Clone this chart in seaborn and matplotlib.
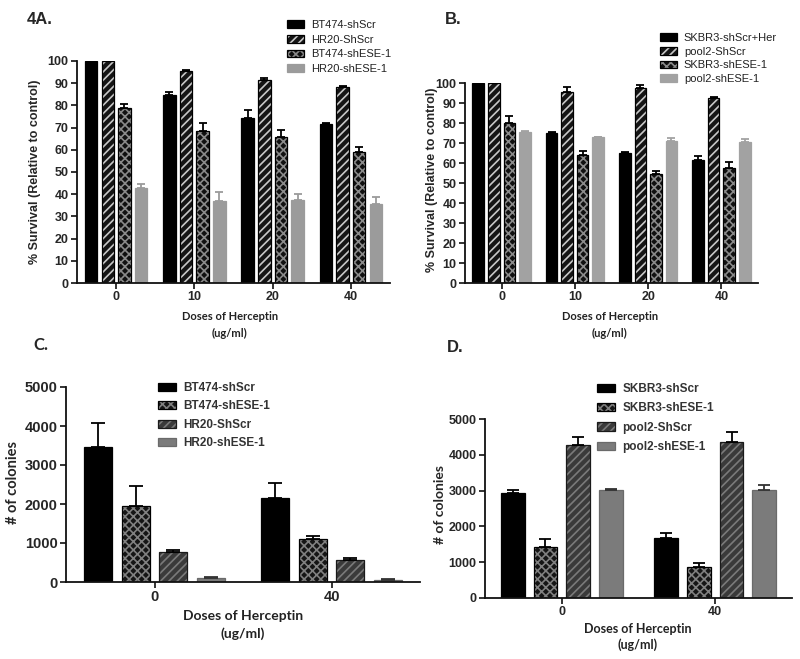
#!/usr/bin/env python3
"""
Herceptin dose response and colony counts, four panel figure (4A-D)
"""

import numpy as np
import pandas as pd
import matplotlib
matplotlib.use('Agg')
import matplotlib.pyplot as plt
import seaborn as sns
from matplotlib.colors import to_rgba

W, H = 800, 659

# ---- panel A: % survival, BT474 / HR20
doses_ab = ['0', '10', '20', '40']
names_a = ['BT474-shScr', 'HR20-ShScr', 'BT474-shESE-1', 'HR20-shESE-1']
a_bt474_scr = [100, 84.6, 74.4, 71.5]
a_bt474_scr_err = [0, 1.5, 3.5, 0.7]
a_hr20_scr = [100, 95.6, 91.3, 88.1]
a_hr20_scr_err = [0, 0.4, 0.9, 0.6]
a_bt474_ese = [79.0, 68.6, 65.6, 58.9]
a_bt474_ese_err = [1.5, 3.6, 3.2, 2.5]
a_hr20_ese = [42.8, 36.9, 37.4, 35.5]
a_hr20_ese_err = [2.0, 4.1, 2.9, 3.4]

# ---- panel B: % survival, SKBR3 / pool2
names_b = ['SKBR3-shScr+Her', 'pool2-ShScr', 'SKBR3-shESE-1', 'pool2-shESE-1']
b_skbr3_scr = [100, 75.0, 65.0, 61.5]
b_skbr3_scr_err = [0, 0.5, 0.7, 1.8]
b_pool2_scr = [100, 95.3, 97.7, 92.5]
b_pool2_scr_err = [0, 2.5, 1.1, 0.6]
b_skbr3_ese = [80.2, 63.8, 54.5, 57.7]
b_skbr3_ese_err = [3.3, 2.0, 1.7, 2.6]
b_pool2_ese = [75.6, 72.8, 71.0, 70.5]
b_pool2_ese_err = [0.5, 0.3, 1.6, 1.6]

# ---- panel C: colonies, BT474 / HR20
doses_cd = ['0', '40']
names_c = ['BT474-shScr', 'BT474-shESE-1', 'HR20-ShScr', 'HR20-shESE-1']
c_bt474_scr = [3450, 2160]
c_bt474_scr_err = [630, 390]
c_bt474_ese = [1960, 1110]
c_bt474_ese_err = [510, 60]
c_hr20_scr = [760, 570]
c_hr20_scr_err = [50, 40]
c_hr20_ese = [100, 60]
c_hr20_ese_err = [25, 15]

# ---- panel D: colonies, SKBR3 / pool2
names_d = ['SKBR3-shScr', 'SKBR3-shESE-1', 'pool2-ShScr', 'pool2-shESE-1']
d_skbr3_scr = [2925, 1675]
d_skbr3_scr_err = [80, 130]
d_skbr3_ese = [1430, 860]
d_skbr3_ese_err = [215, 130]
d_pool2_scr = [4260, 4365]
d_pool2_scr_err = [225, 260]
d_pool2_ese = [3020, 3020]
d_pool2_ese_err = [30, 130]

ARIAL = ['Liberation Sans', 'DejaVu Sans']
CALIBRI = ['Lato', 'DejaVu Sans']


def style(face, edge, hatch=None, hcolor=None, ecolor='black'):
    return {'face': face, 'edge': edge, 'hatch': hatch, 'hcolor': hcolor, 'ecolor': ecolor}


SOLID_AB = style('black', 'black')
STRIPE_AB = style('#151515', 'black', '////', '#c8c8c8')
CHECK_AB = style('#101010', 'black', 'xxxx', '#8a8a8a')
GREY_A = style('#9b9b9b', '#9b9b9b', ecolor='#9b9b9b')
GREY_B = style('#a2a2a2', '#a2a2a2', ecolor='#a2a2a2')

SOLID_CD = style('black', 'black')
CHECK_CD = style('#151515', 'black', 'xxxx', '#808080')
STRIPE_CD = style('#3a3a3a', '#1a1a1a', '////', '#7a7a7a')
GREY_CD = style('#7b7b7b', '#6a6a6a', ecolor='#333333')


def set_hatch_color(patch, color):
    if hasattr(patch, 'set_hatchcolor'):
        patch.set_hatchcolor(color)
    else:
        patch._hatch_color = to_rgba(color)


def add_axes(fig, left, top, right, bottom):
    return fig.add_axes([left / W, 1 - bottom / H, (right - left) / W, (bottom - top) / H])


def draw_panel(ax, doses, names, values, errors, styles, width, gap, cap):
    """Grouped bars through seaborn, then hatches and one-sided error bars"""
    rows = []
    for name, vals in zip(names, values):
        for d, v in zip(doses, vals):
            rows.append({'dose': d, 'group': name, 'value': v})
    df = pd.DataFrame(rows)
    palette = {n: s['face'] for n, s in zip(names, styles)}
    sns.barplot(data=df, x='dose', y='value', hue='group', order=doses,
                hue_order=names, palette=palette, width=width, gap=gap,
                errorbar=None, saturation=1, legend=False, ax=ax)
    bars = list(ax.containers)
    for cont, s, err in zip(bars, styles, errors):
        xs, ys = [], []
        for p in cont.patches:
            p.set_edgecolor(s['edge'])
            p.set_linewidth(0.9)
            if s['hatch']:
                p.set_hatch(s['hatch'])
                set_hatch_color(p, s['hcolor'])
            xs.append(p.get_x() + p.get_width() / 2)
            ys.append(p.get_height())
        ax.errorbar(xs, ys, yerr=[np.zeros(len(err)), err], fmt='none',
                    ecolor=s['ecolor'], elinewidth=1.3, capsize=cap, capthick=1.3)
    return bars


def finish_axes(ax, ylim, yticks, tick_size):
    ax.set_ylim(*ylim)
    ax.set_xlim(-0.5, len(ax.get_xticks()) - 0.5)
    ax.set_yticks(yticks)
    sns.despine(ax=ax)
    for sp in ['left', 'bottom']:
        ax.spines[sp].set_linewidth(1.3)
        ax.spines[sp].set_color('#111111')
    ax.tick_params(axis='both', direction='out', length=4, width=1.2, color='#111111',
                   labelsize=tick_size, pad=2)
    for lab in ax.get_xticklabels() + ax.get_yticklabels():
        lab.set_fontweight('bold')
        lab.set_family(ARIAL)
    ax.set_xlabel('')
    ax.set_ylabel('')


def add_legend(fig, ax, bars, names, x, y, size, spacing, weight='normal', color='#222222'):
    ax.legend(bars, names, loc='upper left', bbox_to_anchor=(x / W, 1 - y / H),
              bbox_transform=fig.transFigure, frameon=False, borderpad=0, borderaxespad=0,
              handlelength=1.5, handleheight=0.7, handletextpad=0.65, labelspacing=spacing,
              prop={'family': ARIAL, 'size': size, 'weight': weight}, labelcolor=color)


def dose_label(fig, x, y1, y2, size):
    for y, txt in [(y1, 'Doses of Herceptin'), (y2, '(ug/ml)')]:
        fig.text(x / W, 1 - y / H, txt, family=CALIBRI, fontsize=size,
                 fontweight='bold', ha='center', va='center', color='#222222')


def main():
    sns.set_style('ticks')
    plt.rcParams['font.family'] = ARIAL
    plt.rcParams['hatch.linewidth'] = 1.2

    fig = plt.figure(figsize=(W / 100, H / 100), dpi=100)

    # ---------- A
    ax = add_axes(fig, 77, 61, 390, 283)
    bars = draw_panel(ax, doses_ab, names_a,
                      [a_bt474_scr, a_hr20_scr, a_bt474_ese, a_hr20_ese],
                      [a_bt474_scr_err, a_hr20_scr_err, a_bt474_ese_err, a_hr20_ese_err],
                      [SOLID_AB, STRIPE_AB, CHECK_AB, GREY_A], 0.85, 0.25, 2.8)
    finish_axes(ax, (0, 100), range(0, 101, 10), 9)
    add_legend(fig, ax, bars, names_a, 287, 20, 8, 0.42)
    fig.text(27 / W, 1 - 19 / H, '4A.', fontsize=12, fontweight='bold', va='center')
    dose_label(fig, 230, 316, 333, 8)
    ax.set_ylabel('% Survival (Relative to control)', fontsize=9, fontweight='bold', va='center')
    ax.yaxis.set_label_coords(35 / W, 1 - 172 / H, transform=fig.transFigure)

    # ---------- B
    ax = add_axes(fig, 465, 83, 758, 283)
    bars = draw_panel(ax, doses_ab, names_b,
                      [b_skbr3_scr, b_pool2_scr, b_skbr3_ese, b_pool2_ese],
                      [b_skbr3_scr_err, b_pool2_scr_err, b_skbr3_ese_err, b_pool2_ese_err],
                      [SOLID_AB, STRIPE_AB, CHECK_AB, GREY_B], 0.85, 0.25, 2.8)
    finish_axes(ax, (0, 100), range(0, 101, 10), 9)
    add_legend(fig, ax, bars, names_b, 660, 33, 8, 0.33)
    fig.text(445 / W, 1 - 20 / H, 'B.', fontsize=12, fontweight='bold', va='center')
    dose_label(fig, 610, 316, 333, 8)
    ax.set_ylabel('% Survival (Relative to control)', fontsize=9, fontweight='bold', va='center')
    ax.yaxis.set_label_coords(432 / W, 1 - 180 / H, transform=fig.transFigure)

    # ---------- C
    ax = add_axes(fig, 66, 387, 420, 582)
    bars = draw_panel(ax, doses_cd, names_c,
                      [c_bt474_scr, c_bt474_ese, c_hr20_scr, c_hr20_ese],
                      [c_bt474_scr_err, c_bt474_ese_err, c_hr20_scr_err, c_hr20_ese_err],
                      [SOLID_CD, CHECK_CD, STRIPE_CD, GREY_CD], 0.85, 0.26, 5.2)
    finish_axes(ax, (0, 5000), range(0, 5001, 1000), 10.5)
    add_legend(fig, ax, bars, names_c, 158, 382, 8.5, 0.55, 'bold', '#333333')
    fig.text(33 / W, 1 - 345 / H, 'C.', family=CALIBRI, fontsize=12, fontweight='bold', va='center')
    dose_label(fig, 243, 616, 634, 10)
    ax.set_ylabel('# of colonies', family=CALIBRI, fontsize=10.5, fontweight='bold', va='center')
    ax.yaxis.set_label_coords(13 / W, 1 - 482 / H, transform=fig.transFigure)

    # ---------- D
    ax = add_axes(fig, 485, 419, 792, 598)
    bars = draw_panel(ax, doses_cd, names_d,
                      [d_skbr3_scr, d_skbr3_ese, d_pool2_scr, d_pool2_ese],
                      [d_skbr3_scr_err, d_skbr3_ese_err, d_pool2_scr_err, d_pool2_ese_err],
                      [SOLID_CD, CHECK_CD, STRIPE_CD, GREY_CD], 0.85, 0.27, 4.3)
    finish_axes(ax, (0, 5000), range(0, 5001, 1000), 9)
    add_legend(fig, ax, bars, names_d, 597, 383, 8.5, 0.62, 'bold', '#333333')
    fig.text(447 / W, 1 - 347 / H, 'D.', fontsize=12, fontweight='bold', va='center')
    dose_label(fig, 638, 629, 645, 9)
    ax.set_ylabel('# of colonies', family=CALIBRI, fontsize=10, fontweight='bold', va='center')
    ax.yaxis.set_label_coords(440 / W, 1 - 505 / H, transform=fig.transFigure)

    fig.savefig('out.png', dpi=100)
    plt.close(fig)


if __name__ == "__main__":
    main()
